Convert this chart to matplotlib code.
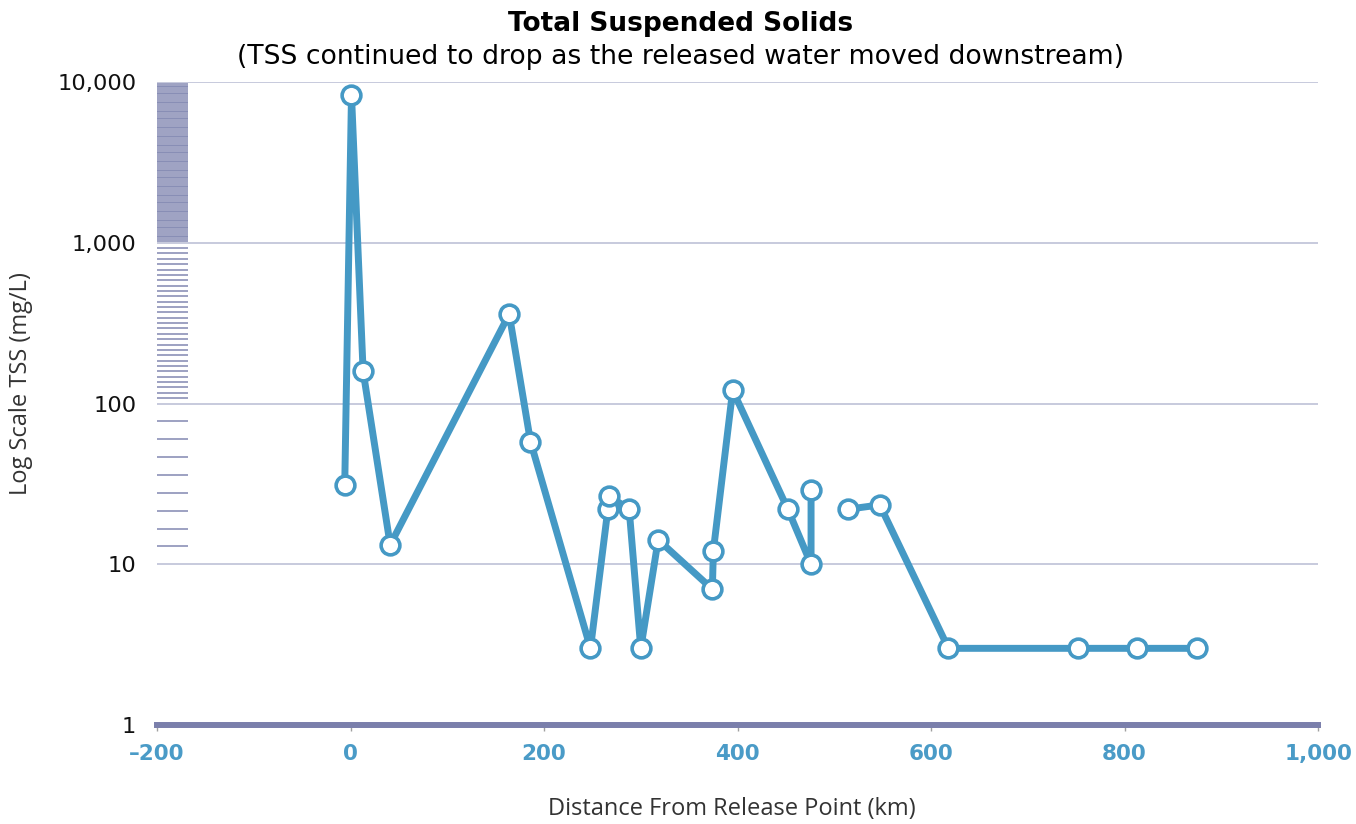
import numpy as np
import matplotlib
matplotlib.use("Agg")
import matplotlib.pyplot as plt
from matplotlib.ticker import FixedLocator, FuncFormatter, NullFormatter

# Sampling sites: distance downstream (km) and total suspended solids (mg/L).
# NaN marks the break in the monitoring record.
distance_km = [-6, 1, 13, 41, 164, 186, 248, 266, 267, 288, 300, 318,
               374, 375, 395, 452, 476, 476, np.nan, 514, 547, 618, 752, 813, 875]
tss_mg_l = [31, 8300, 159, 13.2, 360, 58, 3, 22, 26.6, 22, 3, 14.2,
            7, 12.1, 121, 22, 10, 29, np.nan, 22, 23.4, 3, 3, 3, 3]

x_ticks = [-200, 0, 200, 400, 600, 800, 1000]
y_ticks = [1, 10, 100, 1000, 10000]

title = "Total Suspended Solids"
subtitle = "(TSS continued to drop as the released water moved downstream)"
x_label = "Distance From Release Point (km)"
y_label = "Log Scale TSS (mg/L)"

line_color = "#4599c5"
grid_color = "#c3c6da"
minor_color = "#8288b2"
axis_color = "#7a7fab"

plt.rcParams["font.family"] = ["DejaVu Sans"]

fig = plt.figure(figsize=(13.56, 8.24), dpi=100)
ax = fig.add_axes([0.1158, 0.1201, 0.972 - 0.1158, 0.9005 - 0.1201])

ax.plot(distance_km, tss_mg_l, color=line_color, lw=5, marker="o",
        markersize=13.5, markerfacecolor="white", markeredgecolor=line_color,
        markeredgewidth=2.6, solid_joinstyle="round", zorder=3, clip_on=False)

ax.set_yscale("log")
ax.set_xlim(-200, 1000)
ax.set_ylim(1, 10000)

ax.xaxis.set_major_locator(FixedLocator(x_ticks))
ax.xaxis.set_major_formatter(
    FuncFormatter(lambda v, p: f"{int(v):,}".replace("-", "\u2013")))
ax.yaxis.set_major_locator(FixedLocator(y_ticks))
ax.yaxis.set_major_formatter(FuncFormatter(lambda v, p: f"{int(round(v)):,}"))

# Minor ticks: evenly spaced on screen within each decade
minor = list(10 ** (1 + np.arange(1, 9) / 9.0))
minor += list(10 ** (2 + np.arange(1, 30) / 30.0))
minor += list(10 ** (3 + np.arange(1, 90) / 90.0))
ax.yaxis.set_minor_locator(FixedLocator(minor))
ax.yaxis.set_minor_formatter(NullFormatter())
ax.xaxis.set_minor_locator(FixedLocator([]))

ax.tick_params(axis="y", which="minor", direction="in", length=22.5,
               width=1.1, color=minor_color, left=True)
ax.tick_params(axis="y", which="major", length=0, labelsize=16.2,
               labelcolor="#111111", pad=15)
ax.tick_params(axis="x", which="major", length=4, width=1, color="#a0a0a0",
               labelsize=15.5, labelcolor="#4a9bc7", pad=10)
for lab in ax.get_xticklabels():
    lab.set_fontweight("bold")

ax.grid(True, axis="y", which="major", color=grid_color, lw=1.3)
ax.set_axisbelow(True)

for s in ["top", "right", "left"]:
    ax.spines[s].set_visible(False)
ax.spines["bottom"].set_color(axis_color)
ax.spines["bottom"].set_linewidth(4.3)

fig.text(0.502, 0.971, title, ha="center", va="center", fontsize=19,
         fontweight="bold", color="black")
fig.text(0.502, 0.931, subtitle, ha="center", va="center", fontsize=19.2,
         color="black")
fig.text(0.540, 0.018, x_label, ha="center", va="center", fontsize=17,
         color="#333333", family=["Open Sans", "DejaVu Sans"])
fig.text(0.0155, 0.535, y_label, ha="center", va="center", rotation=90,
         fontsize=17, color="#333333", family=["Open Sans", "DejaVu Sans"])

fig.savefig("out.png", dpi=100, facecolor="white")
